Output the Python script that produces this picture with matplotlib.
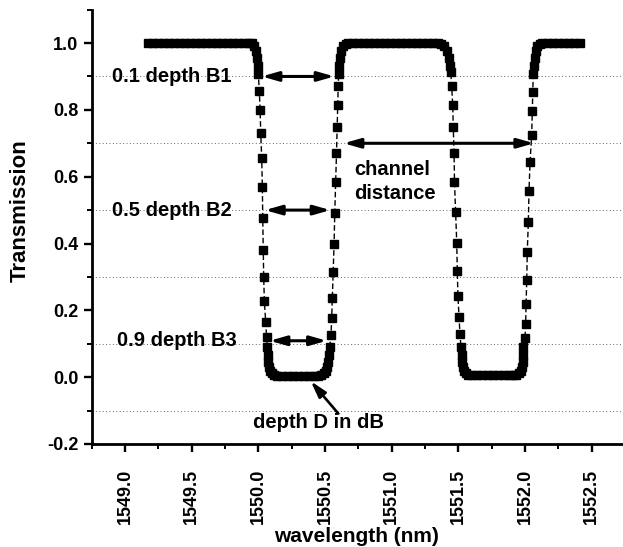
import matplotlib
matplotlib.use("Agg")
import matplotlib.pyplot as plt
from matplotlib.ticker import MultipleLocator, FormatStrFormatter

plt.rcParams["font.family"] = ["Liberation Sans", "DejaVu Sans"]
plt.rcParams["font.weight"] = "bold"
plt.rcParams["axes.unicode_minus"] = False

# transmission spectrum (two notches)
wavelength = [
    # top flat left
    1549.17, 1549.21, 1549.25, 1549.29, 1549.33, 1549.37, 1549.41, 1549.45, 1549.49, 1549.53,
    1549.57, 1549.61, 1549.65, 1549.69, 1549.73, 1549.77, 1549.81, 1549.85, 1549.89, 1549.93,
    1549.95, 1549.97, 1549.985, 1549.993, 1549.997,
    # falling edge 1
    1550.0, 1550.007, 1550.013, 1550.018, 1550.025, 1550.03, 1550.033, 1550.037, 1550.04,
    1550.045, 1550.055, 1550.062,
    1550.066, 1550.07, 1550.074, 1550.08, 1550.09, 1550.102, 1550.118,
    # bottom 1
    1550.14, 1550.18, 1550.22, 1550.26, 1550.30, 1550.34, 1550.38, 1550.42, 1550.45,
    1550.47, 1550.49, 1550.505, 1550.516, 1550.524, 1550.53, 1550.535,
    # rising edge 1
    1550.545, 1550.55, 1550.555, 1550.562, 1550.568, 1550.573, 1550.58, 1550.586, 1550.591,
    1550.595, 1550.599, 1550.602,
    1550.606, 1550.612, 1550.62, 1550.635, 1550.655,
    # top flat middle
    1550.675, 1550.71, 1550.75, 1550.79, 1550.83, 1550.87, 1550.91, 1550.95, 1550.99,
    1551.03, 1551.07, 1551.11, 1551.15, 1551.19, 1551.23, 1551.27, 1551.31, 1551.35,
    1551.37, 1551.395, 1551.415, 1551.428, 1551.436,
    # falling edge 2
    1551.443, 1551.45, 1551.458, 1551.462, 1551.468, 1551.471, 1551.48, 1551.488, 1551.492,
    1551.497, 1551.505, 1551.512, 1551.52,
    1551.524, 1551.528, 1551.534, 1551.544, 1551.558, 1551.575,
    # bottom 2
    1551.60, 1551.64, 1551.68, 1551.72, 1551.76, 1551.80, 1551.84, 1551.88, 1551.91,
    1551.935, 1551.955, 1551.968, 1551.977, 1551.982, 1551.985, 1551.988,
    # rising edge 2
    1552.0, 1552.005, 1552.008, 1552.013, 1552.017, 1552.025, 1552.03, 1552.038, 1552.05,
    1552.055, 1552.058, 1552.062,
    1552.066, 1552.072, 1552.08, 1552.093, 1552.11,
    # top flat right
    1552.13, 1552.17, 1552.21, 1552.25, 1552.29, 1552.33, 1552.37, 1552.41,
]
transmission = [
    1.0, 1.0, 1.0, 1.0, 1.0, 1.0, 1.0, 1.0, 1.0, 1.0,
    1.0, 1.0, 1.0, 1.0, 1.0, 1.0, 1.0, 1.0, 1.0, 1.0,
    0.999, 0.99, 0.975, 0.955, 0.93,
    0.907, 0.856, 0.80, 0.73, 0.656, 0.569, 0.475, 0.38, 0.30,
    0.228, 0.166, 0.12,
    0.09, 0.065, 0.045, 0.03, 0.018, 0.011, 0.007,
    0.005, 0.005, 0.005, 0.005, 0.005, 0.005, 0.005, 0.005, 0.005,
    0.007, 0.011, 0.018, 0.03, 0.045, 0.065, 0.09,
    0.126, 0.176, 0.237, 0.315, 0.40, 0.49, 0.584, 0.67, 0.75,
    0.814, 0.87, 0.906,
    0.93, 0.955, 0.975, 0.99, 0.998,
    1.0, 1.0, 1.0, 1.0, 1.0, 1.0, 1.0, 1.0, 1.0,
    1.0, 1.0, 1.0, 1.0, 1.0, 1.0, 1.0, 1.0, 1.0,
    0.998, 0.99, 0.975, 0.955, 0.93,
    0.914, 0.87, 0.814, 0.748, 0.67, 0.585, 0.493, 0.403, 0.318,
    0.243, 0.179, 0.129, 0.09,
    0.065, 0.045, 0.03, 0.018, 0.011, 0.008,
    0.007, 0.007, 0.007, 0.007, 0.007, 0.007, 0.007, 0.007, 0.007,
    0.008, 0.011, 0.018, 0.03, 0.045, 0.065, 0.09,
    0.118, 0.16, 0.219, 0.29, 0.375, 0.465, 0.558, 0.645, 0.725,
    0.797, 0.854, 0.907,
    0.93, 0.955, 0.975, 0.99, 0.998,
    1.0, 1.0, 1.0, 1.0, 1.0, 1.0, 1.0, 1.0,
]

x_ticks = [1549.0, 1549.5, 1550.0, 1550.5, 1551.0, 1551.5, 1552.0, 1552.5]
y_ticks = [-0.2, 0.0, 0.2, 0.4, 0.6, 0.8, 1.0]
grid_levels = [-0.1, 0.1, 0.3, 0.5, 0.7, 0.9]

# double arrows: (label, label x, label y, arrow start, arrow end, arrow y)
bandwidths = [
    ("0.1 depth B1", 1548.9, 0.9, 1550.025, 1550.57, 0.9),
    ("0.5 depth B2", 1548.9, 0.5, 1550.05, 1550.54, 0.5),
    ("0.9 depth B3", 1548.94, 0.11, 1550.085, 1550.513, 0.109),
]
channel_arrow = (1550.64, 1552.068, 0.7)
depth_arrow_tail = (1550.6, -0.109)
depth_arrow_head = (1550.393, -0.012)

fig = plt.figure(figsize=(6.23, 5.47), dpi=100)
ax = fig.add_axes([0.1472, 0.1883, 0.8528, 0.7941])

for g in grid_levels:
    ax.axhline(g, color="0.4", lw=0.7, ls=(0, (1, 2.5)), zorder=0)

ax.plot(wavelength, transmission, color="black", lw=1.0, ls=(0, (4, 2)),
        marker="s", markersize=6.0, markerfacecolor="black",
        markeredgecolor="black", zorder=3)

ax.set_xlim(1548.75, 1552.735)
ax.set_ylim(-0.2, 1.1)

ax.spines["top"].set_visible(False)
ax.spines["right"].set_visible(False)
ax.spines["left"].set_linewidth(2.0)
ax.spines["bottom"].set_linewidth(2.0)

ax.set_xticks(x_ticks)
ax.set_yticks(y_ticks)
ax.xaxis.set_minor_locator(MultipleLocator(0.25))
ax.yaxis.set_minor_locator(MultipleLocator(0.1))
ax.xaxis.set_major_formatter(FormatStrFormatter("%.1f"))
ax.yaxis.set_major_formatter(FormatStrFormatter("%.1f"))
ax.tick_params(axis="both", which="major", direction="out", length=6, width=1.7, labelsize=13)
ax.tick_params(axis="both", which="minor", direction="out", length=3.5, width=1.4)
ax.tick_params(axis="x", which="major", pad=12, labelrotation=90)
ax.tick_params(axis="y", which="major", pad=3.5)

arrow_style = "<|-|>,head_length=0.7,head_width=0.2"
for label, tx, ty, x1, x2, ay in bandwidths:
    ax.text(tx, ty, label, ha="left", va="center", fontsize=14.5, fontweight="bold")
    ax.annotate("", xy=(x2, ay), xytext=(x1, ay),
                arrowprops=dict(arrowstyle=arrow_style, color="black", lw=2.2,
                                shrinkA=0, shrinkB=0, mutation_scale=14))

ax.annotate("", xy=(channel_arrow[1], channel_arrow[2]), xytext=(channel_arrow[0], channel_arrow[2]),
            arrowprops=dict(arrowstyle=arrow_style, color="black", lw=2.2,
                            shrinkA=0, shrinkB=0, mutation_scale=14))
ax.text(1550.72, 0.585, "channel\ndistance", ha="left", va="center",
        fontsize=14.5, fontweight="bold", linespacing=1.3)

ax.annotate("", xy=depth_arrow_head, xytext=depth_arrow_tail,
            arrowprops=dict(arrowstyle="-|>,head_length=0.7,head_width=0.2", color="black",
                            lw=1.9, shrinkA=0, shrinkB=0, mutation_scale=14))
ax.text(1549.96, -0.135, "depth D in dB", ha="left", va="center", fontsize=14.5, fontweight="bold")

fig.text(20 / 623, 1 - 211 / 547, "Transmission", rotation=90, ha="center", va="center",
         fontsize=16, fontweight="bold")
fig.text(356 / 623, 1 - 537 / 547, "wavelength (nm)", ha="center", va="center",
         fontsize=15, fontweight="bold")

fig.savefig("out.png", dpi=100)
plt.close(fig)
